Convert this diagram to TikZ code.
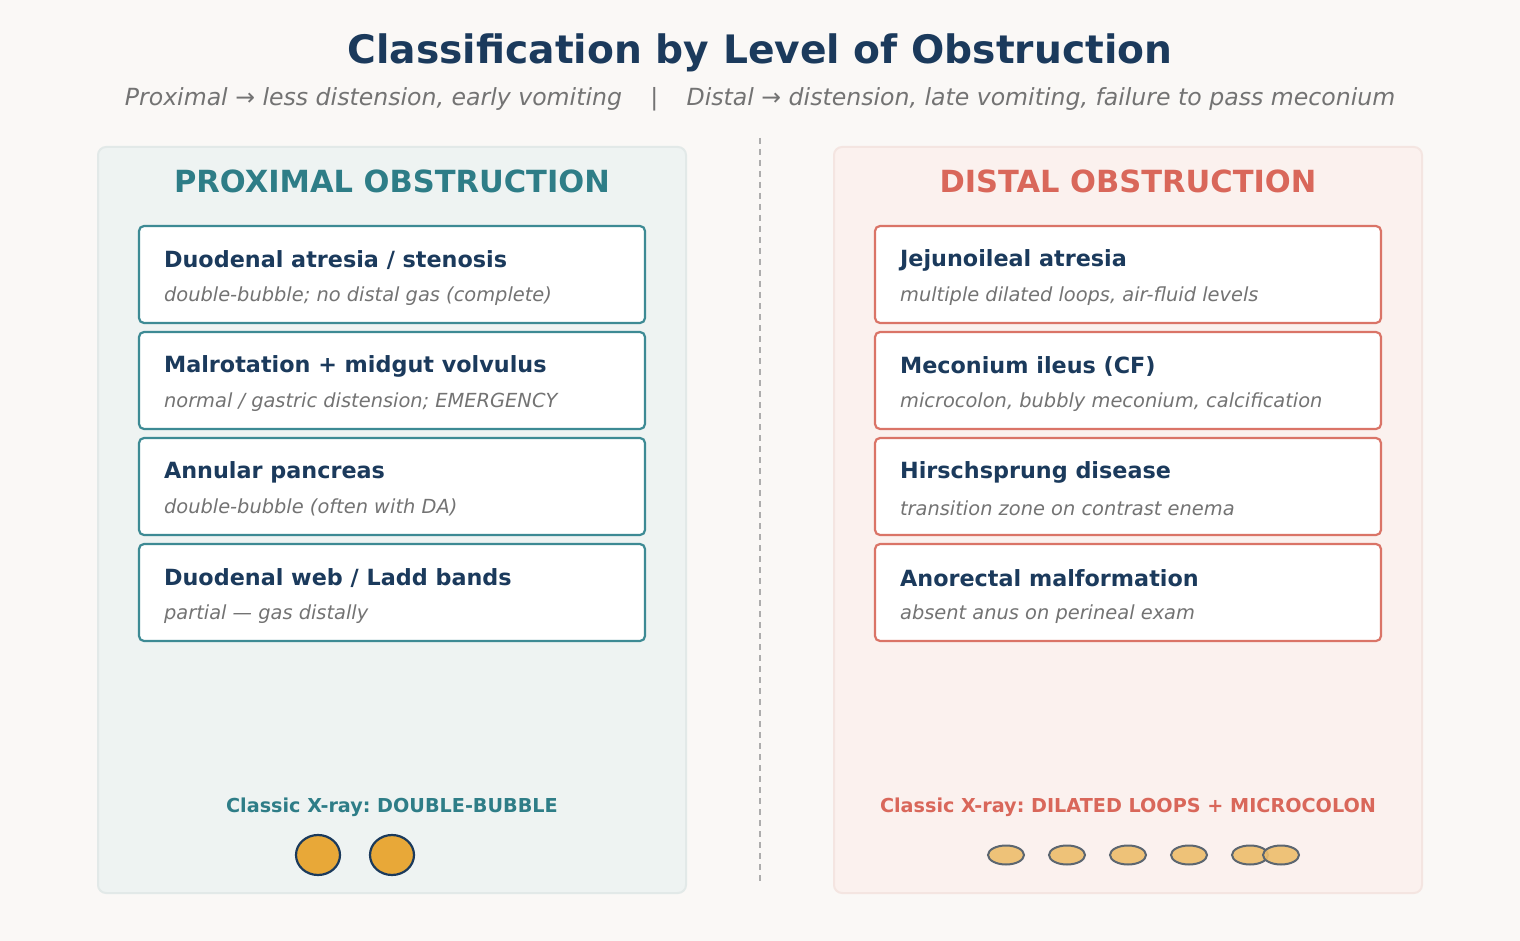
\documentclass[tikz,border=0pt]{standalone}
\usepackage{fontspec}
\setmainfont{DejaVu Sans}
\usetikzlibrary{positioning, calc}
\frenchspacing

\definecolor{pagebg}{HTML}{FAF8F6}
\definecolor{navy}{HTML}{1B3A5C}
\definecolor{greytext}{HTML}{737373}
\definecolor{tealhead}{HTML}{2E7D87}
\definecolor{tealline}{HTML}{3D8A94}
\definecolor{redhead}{HTML}{D9675A}
\definecolor{redline}{HTML}{DA7467}
\definecolor{leftbg}{HTML}{EEF3F2}
\definecolor{leftedge}{HTML}{E2E9E8}
\definecolor{rightbg}{HTML}{FBF1EE}
\definecolor{rightedge}{HTML}{F4E5E1}
\definecolor{bubble}{HTML}{E8A838}
\definecolor{loop}{HTML}{EDBD6C}
\definecolor{loopedge}{HTML}{5C6670}

\tikzset{
    panel/.style={rounded corners=8pt, line width=2pt},
    itembox/.style={draw, fill=white, rounded corners=5pt, line width=2.2pt,
        minimum width=506pt, minimum height=97pt, inner sep=0pt},
    itemtitle/.style={anchor=west, inner sep=0pt, text=navy,
        font=\fontsize{22.3}{26}\selectfont\bfseries},
    itemnote/.style={anchor=west, inner sep=0pt, text=greytext,
        font=\fontsize{19.4}{23}\selectfont\itshape},
    header/.style={inner sep=0pt, font=\fontsize{30.5}{34}\selectfont\bfseries},
    xray/.style={inner sep=0pt, font=\fontsize{19.2}{23}\selectfont\bfseries}
}

\begin{document}
\begin{tikzpicture}[x=1pt, y=-1pt]
    \fill[pagebg] (0,0) rectangle (1520,941);
    \useasboundingbox (0,0) rectangle (1520,941);

    % title and subtitle
    \node[inner sep=0pt, text=navy, font=\fontsize{39.2}{44}\selectfont\bfseries]
        (title) at (760,53) {Classification by Level of Obstruction};
    \node[inner sep=0pt, text=greytext, font=\fontsize{23.6}{28}\selectfont\itshape]
        (subtitle) at (760,99) {Proximal → less distension, early vomiting\hspace{1.2em}|\hspace{1.2em}Distal → distension, late vomiting, failure to pass meconium};

    % panels
    \draw[panel, fill=leftbg, draw=leftedge] (98,147) rectangle (686,893);
    \draw[panel, fill=rightbg, draw=rightedge] (834,147) rectangle (1422,893);
    \draw[dashed, line width=2pt, draw=black!32, dash pattern=on 6pt off 5pt]
        (760,138) -- (760,885);

    \node[header, text=tealhead] (lhead) at (392,181) {PROXIMAL OBSTRUCTION};
    \node[header, text=redhead] (rhead) at (1128,181) {DISTAL OBSTRUCTION};

    % proximal items
    \foreach \i/\t/\s in {1/{Duodenal atresia / stenosis}/{double-bubble; no distal gas (complete)},
                          2/{Malrotation + midgut volvulus}/{normal / gastric distension; EMERGENCY},
                          3/{Annular pancreas}/{double-bubble (often with DA)},
                          4/{Duodenal web / Ladd bands}/{partial — gas distally}} {
        \node[itembox, draw=tealline] (l\i) at (392,274.5+\i*106-106) {};
        \node[itemtitle] (l\i t) at ($(l\i.north west)+(26,35.5)$) {\t};
        \node[itemnote] (l\i s) at ($(l\i.north west)+(26,71)$) {\s};
    }

    % distal items
    \foreach \i/\t/\s in {1/{Jejunoileal atresia}/{multiple dilated loops, air-fluid levels},
                          2/{Meconium ileus (CF)}/{microcolon, bubbly meconium, calcification},
                          3/{Hirschsprung disease}/{transition zone on contrast enema},
                          4/{Anorectal malformation}/{absent anus on perineal exam}} {
        \node[itembox, draw=redline] (r\i) at (1128,274.5+\i*106-106) {};
        \node[itemtitle] (r\i t) at ($(r\i.north west)+(26,35.5)$) {\t};
        \node[itemnote] (r\i s) at ($(r\i.north west)+(26,71)$) {\s};
    }

    % x-ray sketches
    \node[xray, text=tealhead] (lxray) at (392,807) {Classic X-ray: DOUBLE-BUBBLE};
    \node[xray, text=redhead] (rxray) at (1128,807) {Classic X-ray: DILATED LOOPS + MICROCOLON};

    \foreach \x in {318,392} {
        \draw[fill=bubble, draw=navy, line width=2.2pt] (\x,855) ellipse (22pt and 20pt);
    }
    \foreach \x in {1006,1067,1128,1189,1250,1281} {
        \draw[fill=loop, draw=loopedge, line width=2pt, fill opacity=0.9] (\x,855) ellipse (18pt and 9.5pt);
    }
\end{tikzpicture}
\end{document}
